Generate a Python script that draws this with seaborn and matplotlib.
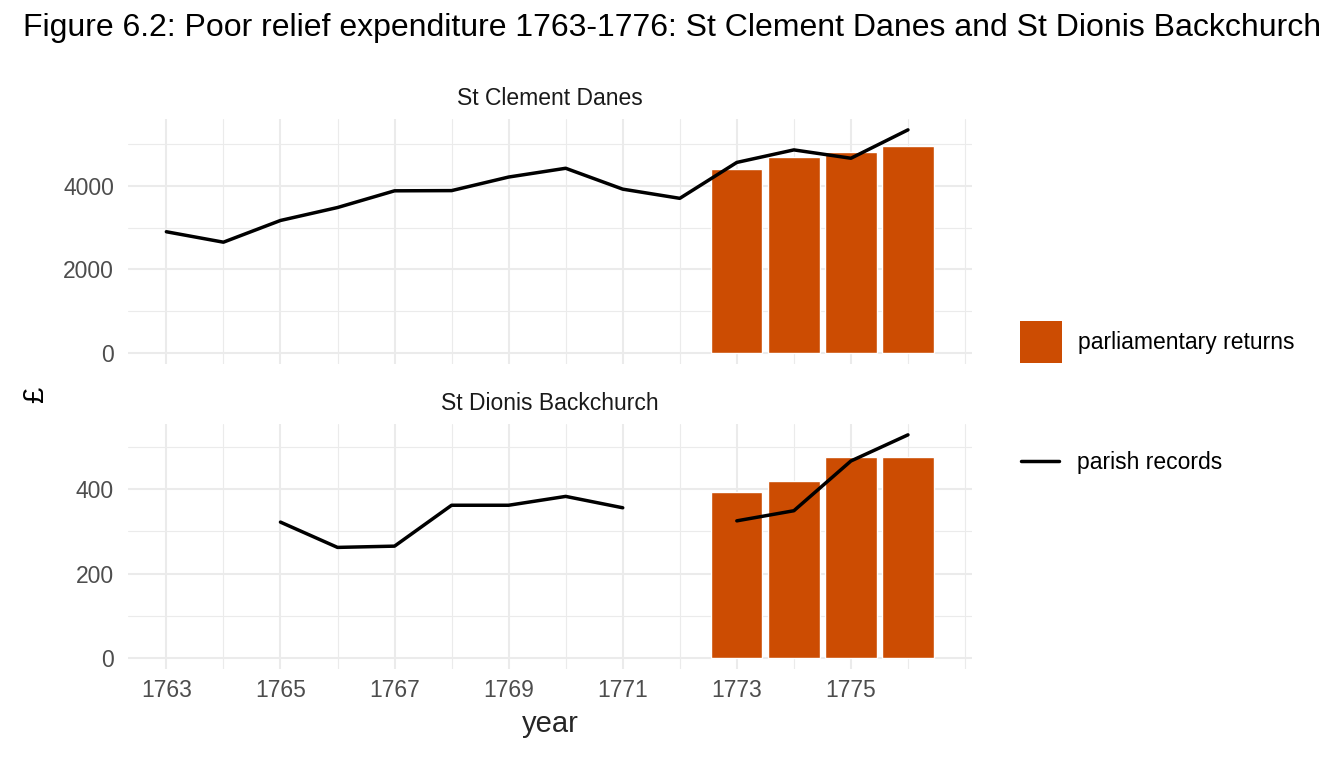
import numpy as np
import pandas as pd
import matplotlib
matplotlib.use("Agg")
import matplotlib.pyplot as plt
from matplotlib.ticker import MultipleLocator
from matplotlib.patches import Patch
from matplotlib.lines import Line2D
import seaborn as sns

# ---- data ----
years = list(range(1763, 1777))
clement_parish = [2900, 2650, 3170, 3480, 3880, 3885, 4210, 4420, 3920, 3700, 4560, 4860, 4660, 5340]
dionis_parish = [np.nan, np.nan, 322, 262, 265, 362, 362, 383, 356, np.nan, 325, 349, 467, 529]
return_years = [1773, 1774, 1775, 1776]
clement_returns = [4410, 4700, 4815, 4960]
dionis_returns = [394, 420, 477, 477]
panel_titles = ["St Clement Danes", "St Dionis Backchurch"]
major_years = [1763, 1765, 1767, 1769, 1771, 1773, 1775]
legend_labels = ["parliamentary returns", "parish records"]
title = "Figure 6.2: Poor relief expenditure 1763-1776: St Clement Danes and St Dionis Backchurch"

BAR_COLOR = "#CC4C02"
GRID = "#EBEBEB"
TICK_COLOR = "#4D4D4D"
SMALL = 16.5

sns.set_style("white")
plt.rcParams["font.family"] = ["Liberation Sans", "DejaVu Sans"]
plt.rcParams["text.color"] = "black"

fig = plt.figure(figsize=(13.44, 7.68), dpi=100)
ax_top = fig.add_axes([128 / 1344, 1 - 364 / 768, 844 / 1344, 245.3 / 768])
ax_bot = fig.add_axes([128 / 1344, 1 - 669 / 768, 844 / 1344, 245.3 / 768])

xlo = min(years)
xhi = max(return_years) + 0.45
xpad = 0.05 * (xhi - xlo)

panels = [
    (ax_top, clement_parish, clement_returns, 1000),
    (ax_bot, dionis_parish, dionis_returns, 100),
]

for i, (ax, parish, returns, step) in enumerate(panels):
    bars = pd.DataFrame({"year": return_years, "value": returns})
    sns.barplot(data=bars, x="year", y="value", native_scale=True, width=0.9,
                color=BAR_COLOR, saturation=1, errorbar=None, ax=ax, zorder=2)
    line = pd.DataFrame({"year": years, "value": parish})
    line["seg"] = line["value"].isna().cumsum()
    line = line.dropna()
    sns.lineplot(data=line, x="year", y="value", units="seg", estimator=None,
                 color="black", lw=2.5, ax=ax, zorder=3)

    vals = [v for v in list(parish) + list(returns) if not np.isnan(v)]
    ymax = max(vals)
    ax.set_ylim(-0.05 * ymax, 1.05 * ymax)
    ax.set_xlim(xlo - xpad, xhi + xpad)

    ax.set_xticks(major_years)
    ax.set_xticks([y + 1 for y in major_years] + [1777], minor=True)
    ax.yaxis.set_major_locator(MultipleLocator(2 * step))
    ax.yaxis.set_minor_locator(MultipleLocator(step))
    ax.set_axisbelow(True)
    ax.grid(which="major", color=GRID, lw=1.5, zorder=0)
    ax.grid(which="minor", color=GRID, lw=0.8, zorder=0)
    for s in ax.spines.values():
        s.set_visible(False)
    ax.tick_params(which="both", length=0)
    ax.tick_params(axis="y", labelsize=SMALL, labelcolor=TICK_COLOR, pad=10)
    ax.tick_params(axis="x", labelsize=SMALL, labelcolor=TICK_COLOR, pad=7)
    ax.set_ylabel("")
    ax.set_xlabel("")
    ax.set_title(panel_titles[i], fontsize=SMALL, color="#1A1A1A", pad=10)

ax_top.tick_params(axis="x", labelbottom=False)
ax_bot.set_xlabel("year", fontsize=21, labelpad=6)

fig.text(35 / 1344, 1 - 395 / 768, "£", rotation=90, fontsize=21,
         ha="center", va="center")
fig.suptitle(title, x=0.5, y=1 - 28 / 768, fontsize=23, va="center", color="black")

fig.legend(handles=[Patch(facecolor=BAR_COLOR, edgecolor="none")],
           labels=[legend_labels[0]], loc="center left",
           bbox_to_anchor=(1020 / 1344, 1 - 342 / 768), frameon=False,
           fontsize=SMALL, handlelength=1.83, handleheight=2.4,
           handletextpad=0.7, borderpad=0, borderaxespad=0)
fig.legend(handles=[Line2D([0], [0], color="black", lw=2.5)],
           labels=[legend_labels[1]], loc="center left",
           bbox_to_anchor=(1021 / 1344, 1 - 463 / 768), frameon=False,
           fontsize=SMALL, handlelength=1.66, handletextpad=0.8,
           borderpad=0, borderaxespad=0)

fig.savefig("out.png", dpi=100)
